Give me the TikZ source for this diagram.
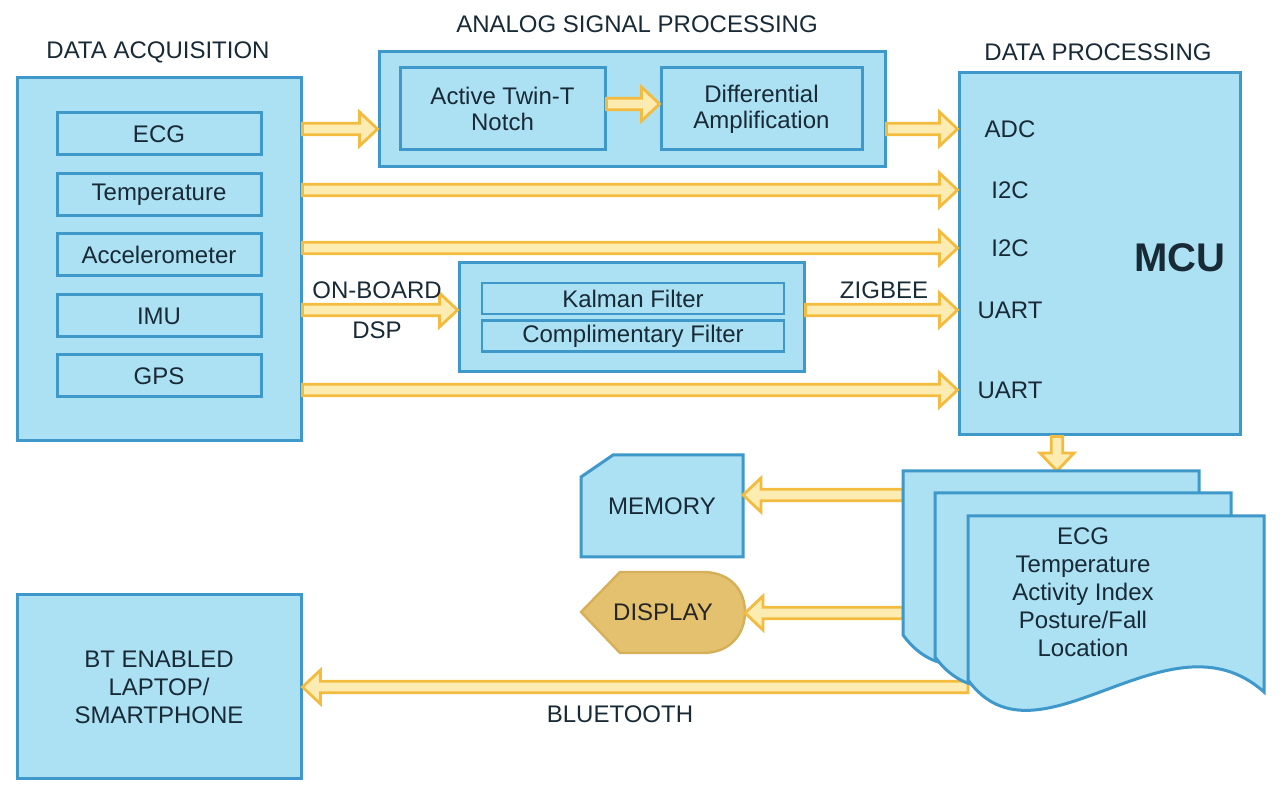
\documentclass[tikz,border=0pt]{standalone}
\usepackage{fontspec}
\setmainfont{Liberation Sans}
\usetikzlibrary{calc}

\definecolor{boxfill}{RGB}{172,224,243}
\definecolor{boxedge}{RGB}{62,152,201}
\definecolor{arrowedge}{RGB}{243,188,62}
\definecolor{arrowfill}{RGB}{253,236,178}
\definecolor{dispfill}{RGB}{227,193,110}
\definecolor{dispedge}{RGB}{214,176,88}
\definecolor{txtc}{RGB}{24,42,54}

\tikzset{
  box/.style={draw=boxedge, fill=boxfill, line width=1.5pt, inner sep=0pt},
  sensor/.style={box, minimum width=102pt, minimum height=21pt, text=txtc},
  filterbox/.style={box, line width=1.3pt, minimum width=151pt, minimum height=15.5pt, text=txtc},
  lbl/.style={text=txtc},
  fat/.style={draw=arrowedge, fill=arrowfill, line width=1.4pt, line join=miter,
    to path={
      ($(\tikztostart)!2.9pt!90:(\tikztotarget)$)
      -- ($($(\tikztotarget)!9pt!(\tikztostart)$)!2.9pt!90:(\tikztotarget)$)
      -- ($($(\tikztotarget)!9pt!(\tikztostart)$)!8.5pt!90:(\tikztotarget)$)
      -- (\tikztotarget)
      -- ($($(\tikztotarget)!9pt!(\tikztostart)$)!8.5pt!-90:(\tikztotarget)$)
      -- ($($(\tikztotarget)!9pt!(\tikztostart)$)!2.9pt!-90:(\tikztotarget)$)
      -- ($(\tikztostart)!2.9pt!-90:(\tikztotarget)$)
      -- cycle}}
}

\begin{document}
\begin{tikzpicture}[x=0.5pt, y=-0.5pt, font=\fontsize{12}{14}\selectfont]
    \useasboundingbox (0,0) rectangle (1286,801);

    % Data acquisition
    \node[lbl] (daqtitle) at (158,52) {DATA ACQUISITION};
    \node[box, minimum width=142pt, minimum height=181.5pt] (daq) at (159,259.5) {};
    \node[sensor] (ecg) at (159,134) {ECG};
    \node[sensor] (temp) at (159,195) {Temperature};
    \node[sensor] (acc) at (159,255) {Accelerometer};
    \node[sensor] (imu) at (159,316) {IMU};
    \node[sensor] (gps) at (159,376) {GPS};

    % Analog signal processing
    \node[lbl] (asptitle) at (637,24) {ANALOG SIGNAL PROCESSING};
    \node[box, minimum width=253pt, minimum height=57.5pt] (asp) at (632,109.5) {};
    \node[box, minimum width=102.5pt, minimum height=41pt, text=txtc, align=center,
          font=\fontsize{12}{13}\selectfont] (notch) at (502.5,109) {Active Twin-T\\Notch};
    \node[box, minimum width=100.5pt, minimum height=41pt, text=txtc, align=center,
          font=\fontsize{12}{13}\selectfont] (diff) at (761.5,109) {Differential\\Amplification};

    % On-board DSP
    \node[box, minimum width=172.5pt, minimum height=54.5pt] (filt) at (631.5,317.5) {};
    \node[filterbox] (kalman) at (633,298.5) {Kalman Filter};
    \node[filterbox] (compl) at (633,336) {Complimentary Filter};

    % Data processing
    \node[lbl] (mcutitle) at (1098,52) {DATA PROCESSING};
    \node[box, minimum width=140.5pt, minimum height=181pt] (mcu) at (1099.5,254) {};
    \node[lbl] (adc) at (1010,129) {ADC};
    \node[lbl] (i2ca) at (1010,190) {I2C};
    \node[lbl] (i2cb) at (1010,248) {I2C};
    \node[lbl] (uarta) at (1010,310) {UART};
    \node[lbl] (uartb) at (1010,390) {UART};
    \node[text=txtc, font=\fontsize{20}{24}\selectfont\bfseries] (mcuname) at (1180,258) {MCU};

    % Laptop
    \node[box, minimum width=142pt, minimum height=92pt, text=txtc, align=center] (bt) at (159,687)
        {BT ENABLED\\LAPTOP/\\SMARTPHONE};

    % Links into the MCU
    \draw[fat] (daq.east |- adc) to (asp.west |- adc);
    \draw[fat] ([yshift=2.5pt]notch.east) to ([yshift=2.5pt]diff.west);
    \draw[fat] (asp.east |- adc) to (mcu.west |- adc);
    \draw[fat] (daq.east |- i2ca) to (mcu.west |- i2ca);
    \draw[fat] (daq.east |- i2cb) to (mcu.west |- i2cb);
    \draw[fat] (daq.east |- uarta) to (filt.west |- uarta);
    \draw[fat] (filt.east |- uarta) to (mcu.west |- uarta);
    \draw[fat] (daq.east |- uartb) to (mcu.west |- uartb);
    \node[lbl] (onboard) at (377,290) {ON-BOARD};
    \node[lbl] (dsp) at (377,330) {DSP};
    \node[lbl] (zigbee) at (884,290) {ZIGBEE};

    % Outputs
    \coordinate (dtop) at (1057,471);
    \coordinate (memy) at (903,495);
    \coordinate (dispy) at (903,613);
    \coordinate (bty) at (968,687);
    \draw[box] (581,477) -- (613,455) -- (743,455) -- (743,557) -- (581,557) -- cycle;
    \node[lbl, minimum width=81pt, minimum height=51pt, inner sep=0pt, outer sep=0pt] (mem) at (662,506) {MEMORY};
    \draw[draw=dispedge, fill=dispfill, line width=1.2pt] (581,612) -- (620,572) -- (703,572)
        .. controls (730,572) and (745,590) .. (745,612)
        .. controls (745,634) and (730,653) .. (703,653) -- (620,653) -- cycle;
    \node[text=black!85, minimum width=82pt, inner sep=0pt, outer sep=0pt] (disp) at (663,612) {DISPLAY};
    \draw[fat] (mcu.south -| dtop) to (dtop);
    \draw[fat] (memy) to (mem.east |- memy);
    \draw[fat] (dispy) to (disp.east |- dispy);
    \draw[fat] (bty) to (bt.east |- bty);
    \node[lbl] (bluetooth) at (620,714) {BLUETOOTH};

    % Report pages
    \draw[box, shift={(903,471)}] (0,0) -- (296,0) -- (296,176)
        .. controls (200,90) and (70,260) .. (0,164) -- cycle;
    \draw[box, shift={(935,493)}] (0,0) -- (296,0) -- (296,176)
        .. controls (200,90) and (70,260) .. (0,164) -- cycle;
    \draw[box, shift={(968,516)}] (0,0) -- (296,0) -- (296,176)
        .. controls (200,90) and (70,260) .. (0,164) -- cycle;
    \node[lbl, align=center] (report) at (1083,592) {ECG\\Temperature\\Activity Index\\Posture/Fall\\Location};
\end{tikzpicture}
\end{document}
